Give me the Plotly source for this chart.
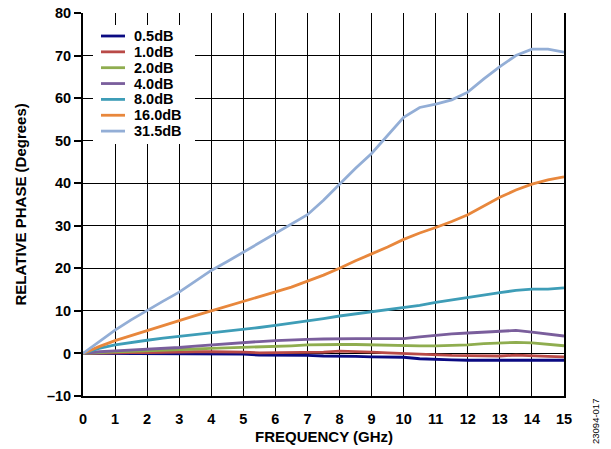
import plotly.graph_objects as go

# Frequency sweep (GHz)
freq = [0, 0.5, 1, 1.5, 2, 2.5, 3, 3.5, 4, 4.5, 5, 5.5, 6, 6.5, 7, 7.5,
        8, 8.5, 9, 9.5, 10, 10.5, 11, 11.5, 12, 12.5, 13, 13.5, 14, 14.5, 15]

# Relative phase (degrees) for each attenuation state
phase_0p5db = [0, 0, 0, 0, 0, 0, 0, 0, 0, -0.1, -0.15, -0.4, -0.4, -0.4, -0.45, -0.6,
               -0.6, -0.7, -0.8, -0.85, -0.9, -1.25, -1.3, -1.5, -1.6, -1.6, -1.6, -1.6, -1.6, -1.6, -1.6]
phase_1p0db = [0, 0.1, 0.15, 0.2, 0.2, 0.3, 0.4, 0.4, 0.4, 0.4, 0.3, 0.15, 0.15, 0.15, 0.15, 0.3,
               0.55, 0.5, 0.3, 0.15, 0.0, -0.3, -0.4, -0.45, -0.5, -0.55, -0.6, -0.4, -0.6, -0.7, -0.8]
phase_2p0db = [0, 0.25, 0.4, 0.5, 0.6, 0.75, 0.9, 1.05, 1.2, 1.3, 1.4, 1.5, 1.6, 1.8, 2.0, 2.1,
               2.1, 2.1, 2.0, 1.9, 1.8, 1.8, 1.8, 1.9, 2.0, 2.3, 2.5, 2.6, 2.5, 2.2, 1.8]
phase_4p0db = [0, 0.4, 0.6, 0.8, 0.9, 1.2, 1.4, 1.7, 2.0, 2.3, 2.5, 2.8, 3.0, 3.2, 3.3, 3.4,
               3.5, 3.5, 3.5, 3.5, 3.5, 3.9, 4.3, 4.6, 4.8, 5.0, 5.2, 5.4, 5.0, 4.6, 4.1]
phase_8p0db = [0, 1.2, 2.0, 2.6, 3.1, 3.6, 4.0, 4.4, 4.8, 5.2, 5.7, 6.1, 6.6, 7.1, 7.6, 8.2,
               8.8, 9.3, 9.8, 10.2, 10.7, 11.3, 12.0, 12.6, 13.2, 13.8, 14.3, 14.8, 15.1, 15.1, 15.4]
phase_16p0db = [0, 1.6, 3.0, 4.2, 5.4, 6.6, 7.8, 8.9, 10.0, 11.1, 12.3, 13.3, 14.4, 15.6, 17.0, 18.4,
                20.0, 21.8, 23.4, 25.0, 26.8, 28.3, 29.6, 31.0, 32.6, 34.6, 36.7, 38.4, 39.8, 40.8, 41.5]
phase_31p5db = [0, 2.8, 5.5, 7.9, 10.2, 12.3, 14.4, 16.9, 19.5, 21.6, 23.8, 26.0, 28.2, 30.2, 32.6, 36.0,
                39.8, 43.5, 47.0, 51.3, 55.5, 57.8, 58.6, 59.6, 61.4, 64.5, 67.4, 70.0, 71.5, 71.5, 70.8]

series_names = ["0.5dB", "1.0dB", "2.0dB", "4.0dB", "8.0dB", "16.0dB", "31.5dB"]
series_values = [phase_0p5db, phase_1p0db, phase_2p0db, phase_4p0db,
                 phase_8p0db, phase_16p0db, phase_31p5db]
series_colors = ["#0a0a82", "#b94a47", "#8fad4f", "#7a5e9c", "#3e9db7", "#e8873c", "#93aed6"]

x_ticks = list(range(0, 16))
y_ticks = list(range(-10, 81, 10))

FONT = "Arial, Liberation Sans, Helvetica, sans-serif"
W, H = 611, 449
ML, MR, MT, MB = 83, 47, 13, 53
PW, PH = W - ML - MR, H - MT - MB


def px_to_paper(px, py):
    """Convert page pixel coordinates to paper coordinates of the plot area."""
    return (px - ML) / PW, (H - MB - py) / PH


fig = go.Figure()
for name, vals, col in zip(series_names, series_values, series_colors):
    fig.add_trace(go.Scatter(x=freq, y=vals, mode="lines", name=name,
                             line=dict(color=col, width=2.8), showlegend=False))

fig.update_layout(
    width=W, height=H,
    margin=dict(l=ML, r=MR, t=MT, b=MB, autoexpand=False),
    paper_bgcolor="white", plot_bgcolor="white",
    font=dict(family=FONT, size=14.5, color="black", weight="bold"),
    showlegend=False,
    xaxis=dict(
        range=[0, 15], tickvals=x_ticks, ticktext=[str(t) for t in x_ticks],
        showgrid=True, gridcolor="#000000", gridwidth=1.2,
        showline=True, linecolor="black", linewidth=2,
        ticks="", ticklabelstandoff=9, zeroline=False, automargin=False,
        tickfont=dict(family=FONT, size=14.5, weight="bold"),
    ),
    yaxis=dict(
        range=[-10, 80], tickvals=y_ticks, ticktext=["\u201310"] + [str(t) for t in y_ticks[1:]],
        showgrid=True, gridcolor="#000000", gridwidth=1.2,
        showline=True, linecolor="black", linewidth=2, mirror=True,
        ticks="outside", ticklen=7, tickwidth=1.5, tickcolor="black",
        zeroline=False, automargin=False,
        tickfont=dict(family=FONT, size=14.5, weight="bold"),
    ),
)

# Axis titles
tx, ty = px_to_paper(323.5, 436)
fig.add_annotation(text="FREQUENCY (GHz)", xref="paper", yref="paper",
                   x=tx, y=ty, xanchor="center", yanchor="middle", showarrow=False,
                   font=dict(family=FONT, size=15, weight="bold"))
tx, ty = px_to_paper(20, 204.5)
fig.add_annotation(text="RELATIVE PHASE (Degrees)", xref="paper", yref="paper",
                   x=tx, y=ty, xanchor="center", yanchor="middle", textangle=-90,
                   showarrow=False, font=dict(family=FONT, size=15, weight="bold"))

# Legend panel: white box with a short line sample and label per series
bx0, by0 = px_to_paper(93, 144)
bx1, by1 = px_to_paper(195, 25)
fig.add_shape(type="rect", xref="paper", yref="paper", x0=bx0, y0=by0, x1=bx1, y1=by1,
              fillcolor="white", line=dict(width=0), layer="above")
for i, (name, col) in enumerate(zip(series_names, series_colors)):
    yc = 36 + i * 15.85
    lx0, ly = px_to_paper(101, yc)
    lx1, _ = px_to_paper(125, yc)
    fig.add_shape(type="line", xref="paper", yref="paper", x0=lx0, x1=lx1, y0=ly, y1=ly,
                  line=dict(color=col, width=2.8), layer="above")
    tx, _ = px_to_paper(132, yc)
    fig.add_annotation(text=name, xref="paper", yref="paper", x=tx, y=ly,
                       xanchor="left", yanchor="middle", showarrow=False,
                       font=dict(family=FONT, size=14.5, weight="bold"))

# Figure code at the right edge
tx, ty = px_to_paper(595, 422)
fig.add_annotation(text="23094-017", xref="paper", yref="paper",
                   x=tx, y=ty, xanchor="center", yanchor="middle",
                   textangle=-90, showarrow=False,
                   font=dict(family=FONT, size=9.5, color="black", weight="normal"))

fig.write_html("out.html")
